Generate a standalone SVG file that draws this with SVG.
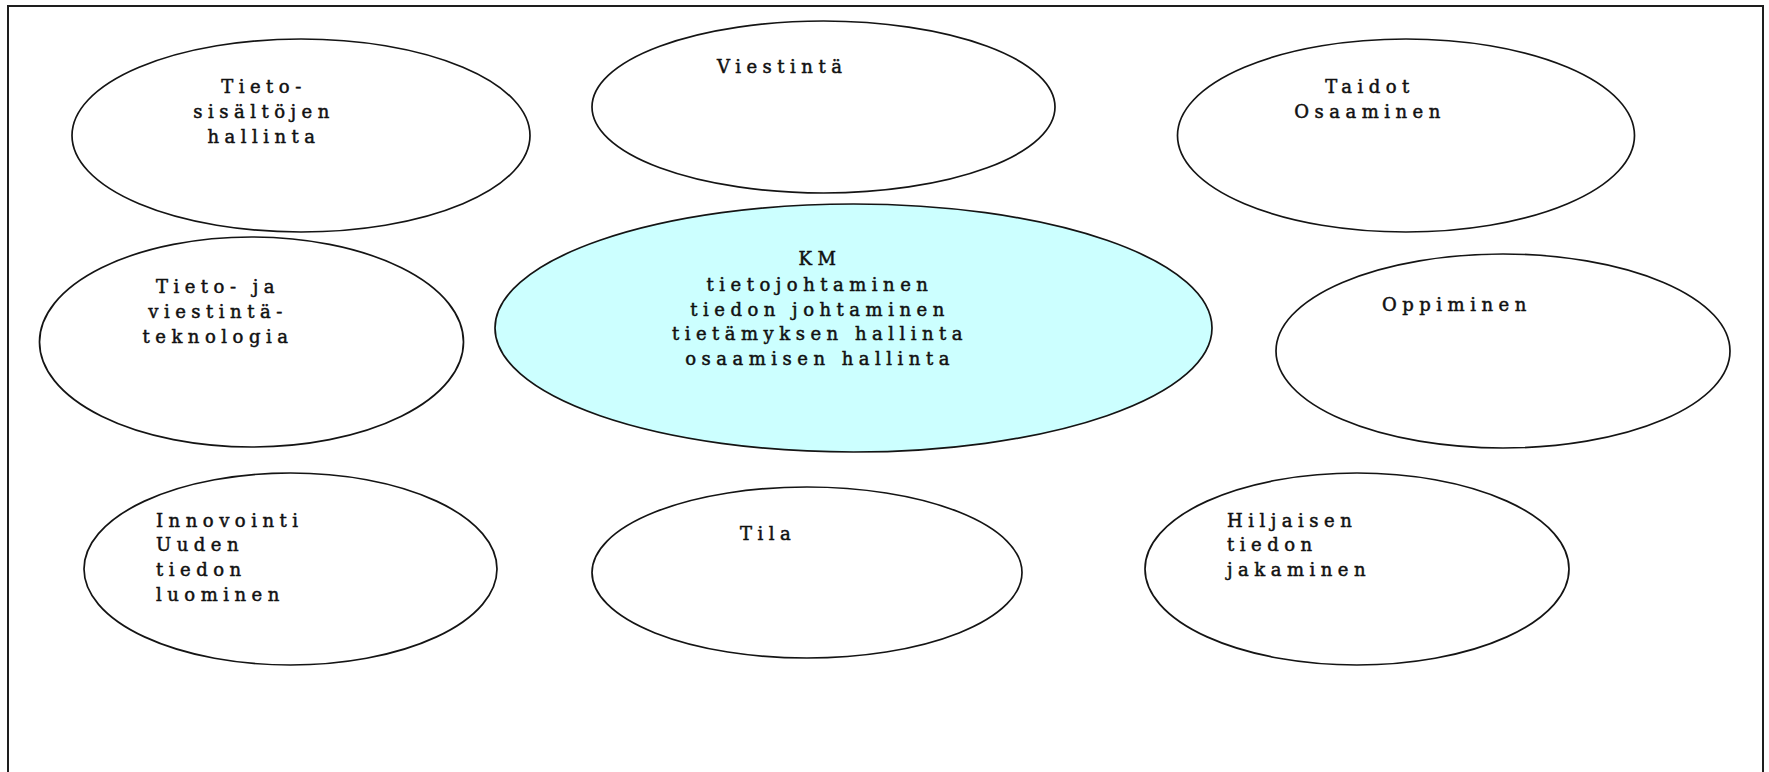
<svg xmlns="http://www.w3.org/2000/svg" width="1769" height="772" viewBox="0 0 1769 772">
  <style>
    .bubble { fill: #ffffff; stroke: #141414; stroke-width: 1.7; }
    .core { fill: #ccffff; }
    .lbl { font-family: "DejaVu Serif", "Liberation Serif", serif; font-size: 18px; letter-spacing: 5.5px; fill: #111111; stroke: #111111; stroke-width: 0.5; }
    .mid { text-anchor: middle; }
    .frame { fill: none; stroke: #1e1e1e; stroke-width: 2; }
  </style>

  <rect x="0" y="0" width="1769" height="772" fill="#ffffff"/>
  <!-- open-bottomed page frame -->
  <path class="frame" d="M8,772 V6 H1763 V772"/>

  <g id="tietosisaltojen-hallinta">
    <ellipse class="bubble" cx="301" cy="135.5" rx="229" ry="96.5"/>
    <text class="lbl mid" x="264" y="93">Tieto-</text>
    <text class="lbl mid" x="264" y="118">sisältöjen</text>
    <text class="lbl mid" x="264" y="143">hallinta</text>
  </g>

  <g id="viestinta">
    <ellipse class="bubble" cx="823.5" cy="107" rx="231.5" ry="86"/>
    <text class="lbl" x="717" y="73">Viestintä</text>
  </g>

  <g id="taidot-osaaminen">
    <ellipse class="bubble" cx="1406" cy="135.5" rx="228.5" ry="96.5"/>
    <text class="lbl mid" x="1370" y="93">Taidot</text>
    <text class="lbl mid" x="1370" y="118">Osaaminen</text>
  </g>

  <g id="tieto-ja-viestintateknologia">
    <ellipse class="bubble" cx="251.5" cy="342" rx="212" ry="105"/>
    <text class="lbl mid" x="218" y="293">Tieto- ja</text>
    <text class="lbl mid" x="218" y="318">viestintä-</text>
    <text class="lbl mid" x="218" y="343">teknologia</text>
  </g>

  <g id="km">
    <ellipse class="bubble core" cx="853.5" cy="328" rx="358.5" ry="124"/>
    <text class="lbl mid" x="820" y="265">KM</text>
    <text class="lbl mid" x="820" y="291">tietojohtaminen</text>
    <text class="lbl mid" x="820" y="316">tiedon johtaminen</text>
    <text class="lbl mid" x="820" y="340">tietämyksen hallinta</text>
    <text class="lbl mid" x="820" y="365">osaamisen hallinta</text>
  </g>

  <g id="oppiminen">
    <ellipse class="bubble" cx="1503" cy="351" rx="227" ry="97"/>
    <text class="lbl" x="1382" y="311">Oppiminen</text>
  </g>

  <g id="innovointi">
    <ellipse class="bubble" cx="290.5" cy="569" rx="206.5" ry="96"/>
    <text class="lbl" x="156" y="527">Innovointi</text>
    <text class="lbl" x="156" y="551">Uuden</text>
    <text class="lbl" x="156" y="576">tiedon</text>
    <text class="lbl" x="156" y="601">luominen</text>
  </g>

  <g id="tila">
    <ellipse class="bubble" cx="807" cy="572.5" rx="215" ry="85.5"/>
    <text class="lbl" x="740" y="540">Tila</text>
  </g>

  <g id="hiljaisen-tiedon-jakaminen">
    <ellipse class="bubble" cx="1357" cy="569" rx="212" ry="96"/>
    <text class="lbl" x="1227" y="527">Hiljaisen</text>
    <text class="lbl" x="1227" y="551">tiedon</text>
    <text class="lbl" x="1227" y="576">jakaminen</text>
  </g>
</svg>
